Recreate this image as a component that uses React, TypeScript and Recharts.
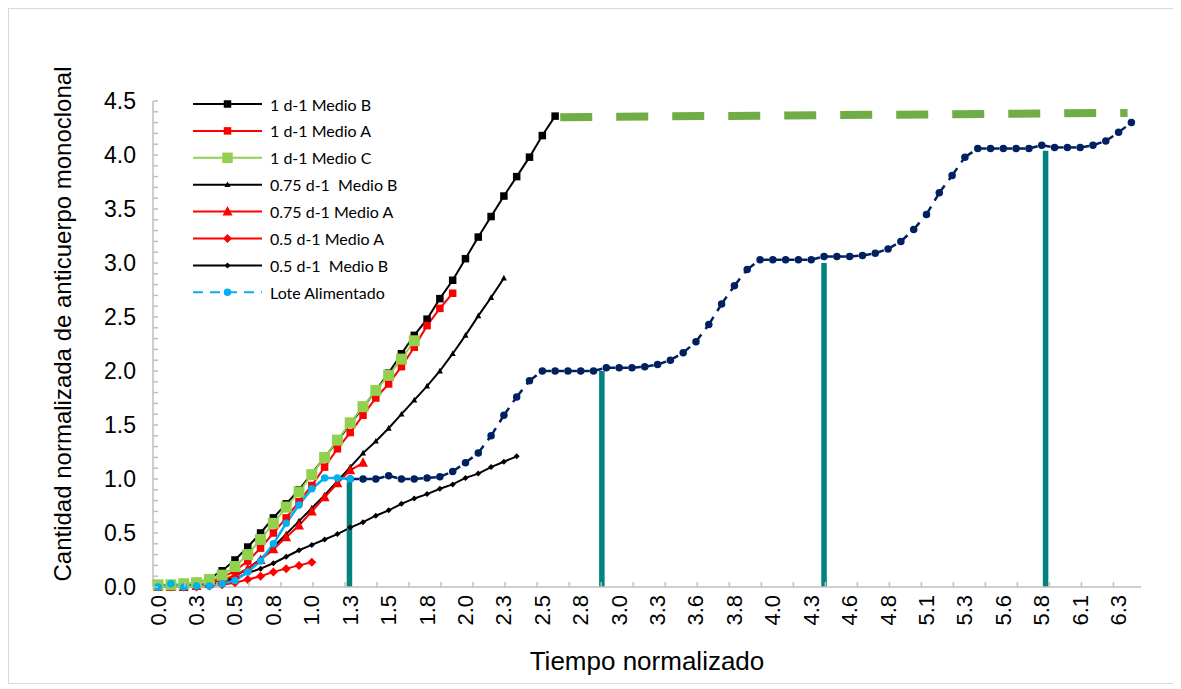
import React from "react";
import { ComposedChart, Line, XAxis, YAxis, Legend, Label } from "recharts";

// x axis is a category-like index: one sample per step, label every 3rd sample
const xLabels = ["0.0", "0.3", "0.5", "0.8", "1.0", "1.3", "1.5", "1.8", "2.0", "2.3", "2.5", "2.8", "3.0", "3.3", "3.6", "3.8", "4.0", "4.3", "4.6", "4.8", "5.1", "5.3", "5.6", "5.8", "6.1", "6.3"];
const labelStep = 3;

// series values, first value at sample 0
const medioB_1 = [0, 0, 0, 0.03, 0.08, 0.15, 0.25, 0.37, 0.5, 0.64, 0.77, 0.9, 1.05, 1.2, 1.35, 1.51, 1.66, 1.82, 1.98, 2.16, 2.33, 2.48, 2.67, 2.84, 3.04, 3.24, 3.43, 3.62, 3.8, 3.98, 4.18, 4.36];
const medioA_1 = [0, 0, 0, 0.01, 0.04, 0.09, 0.15, 0.24, 0.36, 0.5, 0.64, 0.79, 0.94, 1.11, 1.28, 1.43, 1.59, 1.75, 1.88, 2.04, 2.22, 2.42, 2.58, 2.72];
const medioC_1 = [0.02, 0.02, 0.03, 0.04, 0.07, 0.11, 0.19, 0.3, 0.44, 0.59, 0.74, 0.88, 1.04, 1.2, 1.36, 1.52, 1.67, 1.82, 1.96, 2.11, 2.28];
const medioB_075 = [0, 0, 0, 0.01, 0.02, 0.05, 0.1, 0.17, 0.26, 0.37, 0.49, 0.61, 0.73, 0.85, 0.98, 1.11, 1.24, 1.35, 1.47, 1.6, 1.73, 1.86, 2.0, 2.16, 2.33, 2.51, 2.68, 2.86];
const medioA_075 = [0, 0, 0, 0.01, 0.03, 0.06, 0.11, 0.17, 0.25, 0.35, 0.46, 0.57, 0.7, 0.83, 0.96, 1.08, 1.15];
const medioA_05 = [0, 0, 0, 0, 0.01, 0.02, 0.04, 0.07, 0.1, 0.14, 0.17, 0.2, 0.23];
const medioB_05 = [0, 0, 0, 0, 0.01, 0.04, 0.08, 0.13, 0.17, 0.22, 0.28, 0.34, 0.39, 0.44, 0.49, 0.55, 0.6, 0.66, 0.71, 0.77, 0.82, 0.86, 0.91, 0.95, 1.01, 1.05, 1.11, 1.16, 1.21];
const loteAlimentado = [0, 0.03, 0, 0.01, 0.01, 0.03, 0.06, 0.14, 0.24, 0.4, 0.59, 0.76, 0.91, 1.01, 1.01, 1.0];

// fed-batch continuation, starts at sample 15
const loteStart = 15;
const loteContinuacion = [1.0, 1.0, 1.0, 1.03, 1.0, 1.0, 1.01, 1.02, 1.07, 1.15, 1.24, 1.4, 1.59, 1.76, 1.91, 2.0, 2.0, 2.0, 2.0, 2.0, 2.03, 2.03, 2.03, 2.04, 2.06, 2.1, 2.17, 2.27, 2.43, 2.62, 2.79, 2.94, 3.03, 3.03, 3.03, 3.03, 3.03, 3.06, 3.06, 3.06, 3.07, 3.09, 3.13, 3.2, 3.31, 3.45, 3.65, 3.81, 3.98, 4.06, 4.06, 4.06, 4.06, 4.06, 4.09, 4.07, 4.07, 4.07, 4.09, 4.13, 4.21, 4.3];

// harvest level (green dashed) and feed markers (teal bars)
const plateauX = [31.4, 75.7];
const plateauY = [4.35, 4.39];
const feedX = [14.94, 34.65, 52.0, 69.3];
const feedTop = [0.97, 2.0, 3.0, 4.04];

const legendNames = ["1 d-1 Medio B", "1 d-1 Medio A", "1 d-1 Medio C", "0.75 d-1  Medio B", "0.75 d-1 Medio A", "0.5 d-1 Medio A", "0.5 d-1  Medio B", "Lote Alimentado"];

const BLACK = "#000000";
const RED = "#ff0000";
const LIME = "#92d050";
const SKY = "#00b0f0";
const NAVY = "#002060";
const GREEN = "#70ad47";
const TEAL = "#00827f";
const AXIS = "#bfbfbf";
const FONT = "Liberation Sans";

type Shape = "square" | "triangle" | "diamond" | "circle";

const pts = (vals: number[], start = 0) => vals.map((y, i) => ({ x: i + start, y }));

function Marker({ shape, cx, cy, size, color }: { shape: Shape; cx: number; cy: number; size: number; color: string }) {
  const h = size / 2;
  if (shape === "square") return <rect x={cx - h} y={cy - h} width={size} height={size} fill={color} />;
  if (shape === "triangle")
    return <polygon points={`${cx},${cy - h * 1.1} ${cx + h},${cy + h * 0.8} ${cx - h},${cy + h * 0.8}`} fill={color} />;
  if (shape === "diamond")
    return <polygon points={`${cx},${cy - h} ${cx + h},${cy} ${cx},${cy + h} ${cx - h},${cy}`} fill={color} />;
  return <circle cx={cx} cy={cy} r={h} fill={color} />;
}

const dotOf = (shape: Shape, size: number, color: string) => (p: any) => {
  if (p.cx == null || p.cy == null) return <g key={`e${p.index}`} />;
  return <Marker key={`m${p.index}`} shape={shape} cx={p.cx} cy={p.cy} size={size} color={color} />;
};

const legendStyle: { color: string; shape: Shape; size: number; dash?: string }[] = [
  { color: BLACK, shape: "square", size: 7.5 },
  { color: RED, shape: "square", size: 7.5 },
  { color: LIME, shape: "square", size: 10.5 },
  { color: BLACK, shape: "triangle", size: 6 },
  { color: RED, shape: "triangle", size: 10 },
  { color: RED, shape: "diamond", size: 9 },
  { color: BLACK, shape: "diamond", size: 6 },
  { color: SKY, shape: "circle", size: 7.5, dash: "10 7" },
];

function LegendBox() {
  return (
    <svg width={260} height={215}>
      {legendNames.map((name, i) => {
        const s = legendStyle[i];
        const y = 10 + i * 26.9;
        return (
          <g key={name}>
            <line x1={0} x2={69} y1={y} y2={y} stroke={s.color} strokeWidth={2} strokeDasharray={s.dash} />
            <Marker shape={s.shape} cx={34.5} cy={y} size={s.size} color={s.color} />
            <text x={77} y={y} dominantBaseline="central" fontFamily="Lato" fontSize={16} fill="#000" style={{ whiteSpace: "pre" }}>
              {name}
            </text>
          </g>
        );
      })}
    </svg>
  );
}

const xTicks = [
  ...xLabels.map((_, j) => j * labelStep),
  ...Array.from({ length: 30 }, (_, n) => 2.5 * (n + 1) - 0.4),
].sort((a, b) => a - b);

const yTicks = Array.from({ length: 46 }, (_, k) => k / 10);

const renderXTick = (p: any) => {
  const v = p.payload.value;
  if (Number.isInteger(v) && v % labelStep === 0) {
    const ty = p.y + 8;
    return (
      <text key={`xl${v}`} x={p.x} y={ty} transform={`rotate(-90 ${p.x} ${ty})`} textAnchor="end" dominantBaseline="central" fontFamily={FONT} fontSize={22} fill="#000">
        {xLabels[v / labelStep]}
      </text>
    );
  }
  return <line key={`xt${v}`} x1={p.x} x2={p.x} y1={p.y} y2={p.y - 5} stroke={AXIS} strokeWidth={1.5} />;
};

const renderYTick = (p: any) => {
  const v = p.payload.value;
  const major = Math.round(v * 10) % 5 === 0;
  return (
    <g key={`yt${v}`}>
      <line x1={p.x} x2={p.x + 5} y1={p.y} y2={p.y} stroke={AXIS} strokeWidth={1.5} />
      {major && (
        <text x={p.x - 17} y={p.y} textAnchor="end" dominantBaseline="central" fontFamily={FONT} fontSize={23} fill="#000">
          {v.toFixed(1)}
        </text>
      )}
    </g>
  );
};

export default function App() {
  const navy = pts(loteContinuacion, loteStart);
  const navySegments = navy.slice(1).map((p, i) => [navy[i], p]);
  const plateau = plateauX.map((x, i) => ({ x, y: plateauY[i] }));

  return (
    <div style={{ width: 1166, height: 676, border: "1px solid #d9d9d9", boxSizing: "border-box", background: "#fff" }}>
      <ComposedChart width={1164} height={674} margin={{ top: 92, right: 32, bottom: 0, left: 0 }}>
        <XAxis
          type="number"
          dataKey="x"
          domain={[-0.4, 76.75]}
          ticks={xTicks}
          interval={0}
          tickSize={0}
          tickMargin={0}
          tickLine={false}
          tick={renderXTick}
          axisLine={{ stroke: AXIS, strokeWidth: 1.5 }}
          height={96}
        >
          <Label value="Tiempo normalizado" position="center" dy={26} fontFamily={FONT} fontSize={26} fill="#000" />
        </XAxis>
        <YAxis
          type="number"
          domain={[0, 4.5]}
          ticks={yTicks}
          interval={0}
          tickSize={0}
          tickMargin={0}
          tickLine={false}
          tick={renderYTick}
          axisLine={{ stroke: AXIS, strokeWidth: 1.5 }}
          width={144}
        >
          <Label value="Cantidad normalizada de anticuerpo monoclonal" angle={-90} position="center" dx={-19} dy={-20} fontFamily={FONT} fontSize={24} fill="#000" />
        </YAxis>
        <Legend layout="vertical" align="center" verticalAlign="middle" wrapperStyle={{ left: 184, top: 85, width: 260 }} content={() => <LegendBox />} />

        <Line data={pts(medioB_05)} dataKey="y" name={legendNames[6]} stroke={BLACK} strokeWidth={2} dot={dotOf("diamond", 6, BLACK)} activeDot={false} isAnimationActive={false} />
        <Line data={pts(medioA_05)} dataKey="y" name={legendNames[5]} stroke={RED} strokeWidth={2} dot={dotOf("diamond", 9, RED)} activeDot={false} isAnimationActive={false} />
        <Line data={pts(medioB_075)} dataKey="y" name={legendNames[3]} stroke={BLACK} strokeWidth={2} dot={dotOf("triangle", 6, BLACK)} activeDot={false} isAnimationActive={false} />
        <Line data={pts(medioA_075)} dataKey="y" name={legendNames[4]} stroke={RED} strokeWidth={2} dot={dotOf("triangle", 10, RED)} activeDot={false} isAnimationActive={false} />
        <Line data={pts(medioB_1)} dataKey="y" name={legendNames[0]} stroke={BLACK} strokeWidth={2} dot={dotOf("square", 7.5, BLACK)} activeDot={false} isAnimationActive={false} />
        <Line data={pts(medioA_1)} dataKey="y" name={legendNames[1]} stroke={RED} strokeWidth={2} dot={dotOf("square", 7.5, RED)} activeDot={false} isAnimationActive={false} />
        <Line data={pts(medioC_1)} dataKey="y" name={legendNames[2]} stroke={LIME} strokeWidth={2} dot={dotOf("square", 11, LIME)} activeDot={false} isAnimationActive={false} />

        {navySegments.map((seg, i) => (
          <Line key={`ns${i}`} data={seg} dataKey="y" legendType="none" stroke={NAVY} strokeWidth={2.5} strokeDasharray="9 7" dot={false} activeDot={false} isAnimationActive={false} />
        ))}
        <Line data={navy} dataKey="y" legendType="none" stroke="none" dot={dotOf("circle", 7.5, NAVY)} activeDot={false} isAnimationActive={false} />
        <Line data={pts(loteAlimentado)} dataKey="y" name={legendNames[7]} stroke={SKY} strokeWidth={2.5} dot={dotOf("circle", 7.5, SKY)} activeDot={false} isAnimationActive={false} />

        <Line data={plateau} dataKey="y" legendType="none" stroke={GREEN} strokeWidth={8} strokeDasharray="32 24" dot={false} activeDot={false} isAnimationActive={false} />

        {feedX.map((x, i) => (
          <Line key={`feed${i}`} data={[{ x, y: 0 }, { x, y: feedTop[i] }]} dataKey="y" legendType="none" stroke={TEAL} strokeWidth={5.5} dot={false} activeDot={false} isAnimationActive={false} />
        ))}
      </ComposedChart>
    </div>
  );
}
